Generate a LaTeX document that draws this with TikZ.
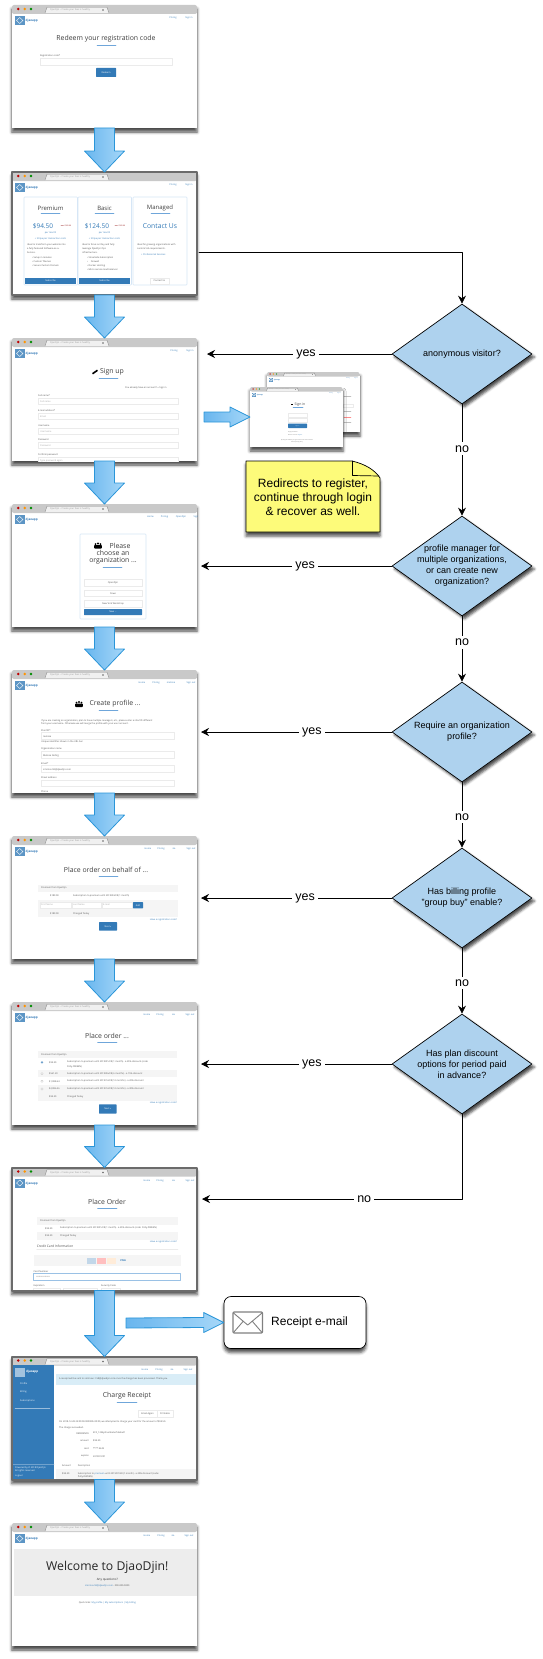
\documentclass[tikz,border=0pt]{standalone}
\usepackage{fontspec}
\setmainfont{Liberation Sans}
\setsansfont{Open Sans}
\usetikzlibrary{arrows.meta,calc,shapes.geometric,shadows.blur}

% Colours
\definecolor{flowedge}{HTML}{2A95D8}
\definecolor{flowleft}{HTML}{69B6EE}
\definecolor{flowright}{HTML}{A6D7F8}
\definecolor{askblue}{HTML}{AED2EE}
\definecolor{notefill}{HTML}{FDFB7A}
\definecolor{barcol}{HTML}{C9C9C9}
\definecolor{webblue}{HTML}{337AB7}
\definecolor{rulecol}{HTML}{6FA6DA}
\definecolor{fieldcol}{HTML}{EBEBEB}
\definecolor{cardcol}{HTML}{D6E6F6}
\definecolor{bandcol}{HTML}{F5F5F5}
\definecolor{alertcol}{HTML}{D9EDF7}
\definecolor{txtcol}{HTML}{505050}

\tikzset{
	softshadow/.style={blur shadow={shadow xshift=0pt, shadow yshift=-4pt, shadow blur radius=3pt, shadow opacity=70}},
	shot/.style={rectangle, fill=white, minimum width=185pt, minimum height=123pt, inner sep=0pt, outer sep=0pt, softshadow},
	minishot/.style={shot, minimum width=93pt, minimum height=60pt},
	shotframe/.style={draw=black!58, line width=2pt},
	ask/.style={diamond, draw=black, fill=askblue, line width=0.7pt, minimum width=140pt, minimum height=100pt, inner sep=0pt, aspect=1.4,
		blur shadow={shadow xshift=2.5pt, shadow yshift=-3pt, shadow blur radius=2.5pt, shadow opacity=70}},
	asktxt/.style={align=center, font=\fontsize{9}{11}\selectfont, inner sep=0pt},
	flow/.style={draw=black, line width=0.7pt, -{Stealth[length=8pt, width=8pt]}},
	answer/.style={fill=white, font=\fontsize{12.5}{14}\selectfont, inner sep=3pt},
	bigflow/.style={draw=flowedge, line width=0.8pt, left color=flowleft, right color=flowright},
	tx/.style={font=\sffamily\fontsize{2.3}{3}\selectfont, text=txtcol, anchor=west, inner sep=0pt},
	ctr/.style={anchor=center},
	linkcol/.style={text=webblue},
	ttl/.style={font=\sffamily\fontsize{6.9}{8}\selectfont, anchor=center, text=black!75},
	under/.style={draw=rulecol, line width=0.5pt},
	field/.style={draw=fieldcol, line width=0.4pt, fill=white},
	card/.style={draw=cardcol, line width=0.6pt, fill=white, rounded corners=0.8pt},
}

\newcounter{txtno}
\newcommand{\tx}[3][]{\stepcounter{txtno}\node[tx,#1] (txt\thetxtno) at (#2) {#3};}
% Blue arrow running down from one screen to the next
\newcommand{\bigdown}[2]{\draw[bigflow] ($(#1.south)+(-10,0)$) -- ($(#2.north)+(-10,-21)$) -- ($(#2.north)+(-20,-21)$) -- (#2.north)
	-- ($(#2.north)+(20,-21)$) -- ($(#2.north)+(10,-21)$) -- ($(#1.south)+(10,0)$) -- cycle;}
% Blue arrow running right
\newcommand{\bigright}[2]{\draw[bigflow] ($(#1)+(0,-5)$) -- ($(#2)+(-20,-5)$) -- ($(#2)+(-20,-10)$) -- (#2)
	-- ($(#2)+(-20,10)$) -- ($(#2)+(-20,5)$) -- ($(#1)+(0,5)$) -- cycle;}
% Form parts
\newcommand{\btn}[3]{\fill[webblue, rounded corners=0.5pt] (#1) rectangle (#2); \tx[ctr, text=white]{$(#1)!.5!(#2)$}{#3}}
\newcommand{\entry}[4]{\tx{#1,#2}{#3} \draw[field] (#1,#2+2) rectangle (#1+#4,#2+8.6);}
\newcommand{\usersign}[1]{\begin{scope}[shift={(#1)}]
	\fill (0,0) circle (1.1pt) (-2.5,0.6) circle (0.9pt) (2.5,0.6) circle (0.9pt);
	\fill[rounded corners=0.6pt] (-3.8,5) rectangle (3.8,1.6);
	\end{scope}}

% One browser window: scale, node name, then its menu as position/label pairs
\newenvironment{webshot}[3][1]{\begin{scope}[shift={(#2.north west)}, scale=#1, transform shape]
	\clip (#2.north west) rectangle (#2.south east);
	\fill[barcol, rounded corners=2pt] (0,9) -- (0,0) -- (185,0) -- (185,9) -- cycle;
	\fill[barcol] (0,4) rectangle (185,8);
	\fill[red!75!black] (6.3,4) circle (1.4pt);
	\fill[orange!85!yellow] (12.7,4) circle (1.4pt);
	\fill[green!55!black] (19,4) circle (1.4pt);
	\draw[black!50, fill=black!6, line width=0.3pt] (33,8) -- (35,2.2) -- (95,2.2) -- (97,8);
	\tx[text=black!40]{38,5}{DjaoDjin -- Create your fees is healthy}
	\fill[black!60] (91,5) circle (0.8pt);
	\fill[webblue!80] (3,11) rectangle (12.5,20);
	\draw[white, line width=0.4pt] (7.7,12.5) -- (11,15.5) -- (7.7,18.5) -- (4.5,15.5) -- cycle;
	\tx[font=\sffamily\bfseries\fontsize{3}{3}\selectfont, linkcol]{13.5,16}{djaoapp}
	\foreach \px/\lab in {#3} {\tx[ctr, linkcol]{\px,13}{\lab}}
	}{\end{scope}}

\begin{document}
\begin{tikzpicture}[x=1pt, y=-1pt, line cap=round, line join=round]
	\useasboundingbox (0,0) rectangle (542,1659);

	% Screens
	\node[shot] (redeem) at (104.5,66.5) {};
	\node[shot] (plans) at (104.5,233.5) {};
	\node[shot] (signup) at (104.5,399.5) {};
	\node[shot] (orgchoice) at (104.5,565.5) {};
	\node[shot] (profile) at (104.5,731.5) {};
	\node[shot] (groupbuy) at (104.5,897.5) {};
	\node[shot] (periods) at (104.5,1063.5) {};
	\node[shot] (checkout) at (104.5,1229) {};
	\node[shot] (receipt) at (104.5,1418) {};
	\node[shot] (welcome) at (104.5,1584.5) {};

	% Redeem code
	\begin{webshot}{redeem}{161/Pricing,177/Sign in}
		\tx[ttl]{94,34}{Redeem your registration code}
		\draw[under] (85,40) -- (104,40);
		\tx{28,51}{Registration code*}
		\draw[field] (28,53.5) rectangle (160,60.5);
		\btn{84,63}{104,72}{Redeem}
	\end{webshot}

	% Pricing plans
	\begin{webshot}{plans}{161/Pricing,177/Sign in}
		\foreach \cx/\title/\cost in {12/Premium/\$94.50,66/Basic/\$124.50} {
			\draw[card] (\cx,25) rectangle (\cx+53.5,113);
			\tx[ttl, font=\sffamily\fontsize{6}{7}\selectfont]{\cx+26.5,36}{\title}
			\draw[under] (\cx+17,41) -- (\cx+36,41);
			\tx[ctr, linkcol, font=\sffamily\fontsize{6.5}{7}\selectfont]{\cx+19,54}{\cost}
			\tx[ctr, text=red!55!black, font=\sffamily\fontsize{1.8}{2}\selectfont]{\cx+42,54}{was \$105.00}
			\tx[ctr, linkcol]{\cx+26.5,61}{per month}
			\tx[ctr, linkcol]{\cx+26.5,67}{+ Stripe per transaction costs}
			\fill[webblue] (\cx+1,106) rectangle (\cx+52,112);
			\tx[ctr, text=white]{\cx+26.5,109}{Subscribe}
		}
		\draw[card] (121,25) rectangle (175,113);
		\tx[ttl, font=\sffamily\fontsize{6}{7}\selectfont]{148,36}{Managed}
		\draw[under] (139,41) -- (158,41);
		\tx[ctr, linkcol, font=\sffamily\fontsize{6.8}{7}\selectfont]{148,54}{Contact Us}
		\tx{15,73}{Ideal to transform your website into}
		\tx{15,76.7}{a fully featured Software-as-a-}
		\tx{15,80.2}{Service.}
		\foreach \ly/\lab in {86.3/Setup in minutes,90/Custom Themes,94/Secure Custom Domain} {\tx{20,\ly}{\textbullet\ \lab}}
		\tx{70,73}{Ideal to focus on Day and fully}
		\tx{70,76.7}{leverage DjaoDjin Ops}
		\tx{70,80.2}{infrastructure.}
		\foreach \ly/\lab in {86.3/Streetside Subscription,90/\quad Firewall,94/Docker Hosting,98/Micro service load balancer} {\tx{75,\ly}{\textbullet\ \lab}}
		\tx{125,73}{Ideal for growing organizations with}
		\tx{125,76.7}{custom SLA requirements.}
		\tx[linkcol]{129,82.5}{+ Professional Services}
		\draw[field] (138,106) rectangle (157,112);
		\tx[ctr]{147.5,109}{Contact Us}
	\end{webshot}
	\draw[shotframe] (plans.north west) rectangle (plans.south east);

	% Sign up
	\begin{webshot}{signup}{162/Pricing,178/Sign in}
		\tx[ttl]{100,34}{Sign up}
		\fill[rotate around={35:(83,34)}] (80,33.2) rectangle (86,34.8);
		\draw[under] (87,40) -- (106,40);
		\tx{113,50}{You already have an account? » Sign in}
		\entry{26}{58}{Full name*}{140}
		\entry{26}{72.7}{E-mail address*}{140}
		\entry{26}{87.7}{Username}{140}
		\entry{26}{102}{Password}{140}
		\entry{26}{117.3}{Confirm password}{140}
		\foreach \ly/\lab in {63.5/Full name,78.2/Email,93.2/Username,107.5/Password,122.8/Type password again} {\tx[text=black!35]{28,\ly}{\lab}}
	\end{webshot}

	% Choose an organization
	\begin{webshot}{orgchoice}{138.5/Home,152.5/Pricing,169/OpenDjin,184/Sign}
		\draw[card] (68,30) rectangle (134,115);
		\usersign{86,39.5}
		\tx[ttl]{108,42}{Please}
		\tx[ttl]{101,49.3}{choose an}
		\tx[ttl]{101,57}{organization ...}
		\draw[under] (91,63) -- (110,63);
		\foreach \ly/\lab in {75.3/OpenDjin,86/Cowo,96.3/New York Workshop} {
			\draw[field] (72,\ly) rectangle (130,\ly+6.4);
			\tx[ctr]{101,\ly+3.2}{\lab}
		}
		\btn{72,105}{130,111}{New ...}
	\end{webshot}

	% Create profile
	\begin{webshot}{profile}{130/Home,144/Pricing,159/melissa,179/Sign out}
		\usersign{67,32}
		\tx[ttl]{103,34}{Create profile ...}
		\draw[under] (87,40) -- (106,40);
		\tx{29,50.7}{If you are creating an organization, plan to have multiple managers, etc., please enter a shortID different}
		\tx{29,54.3}{from your username. Otherwise we will merge the profile with your user account.}
		\entry{29}{60.3}{ShortID*}{133}
		\tx{31,66.6}{melissa}
		\tx{29,72.3}{Unique identifier shown in the URL bar}
		\entry{29}{79.3}{Organization name}{133}
		\tx{31,85.6}{Melissa NoOrg}
		\entry{29}{93.3}{Email*}{133}
		\tx{31,99.6}{smirnov.58@djaodjin.com}
		\entry{29}{107.7}{Street address}{133}
		\tx{29,122}{Phone}
	\end{webshot}

	% Place order for someone else
	\begin{webshot}{groupbuy}{136/Home,149/Pricing,162/sia,179/Sign out}
		\tx[ttl]{94,34}{Place order on behalf of ...}
		\draw[under] (87,40) -- (106,40);
		\fill[bandcol] (26,49) rectangle (166,55.7);
		\fill[bandcol] (26,64) rectangle (166,81.3);
		\tx{29,52.3}{Premium from DjaoDjin}
		\tx{38,60}{\$189.00}
		\tx{61,60}{Subscription to premium until 2019/03/28 (1 month)}
		\foreach \fa/\fb/\lab in {28/59/First Name,60/89/Last Name,90/120/E-mail} {
			\draw[field] (\fa,66) rectangle (\fb,72.3);
			\tx[text=black!35]{\fa+1,69}{\lab}
		}
		\btn{121,66}{131,72.3}{Add}
		\tx{38,78}{\$189.00}
		\tx{61,78}{Charged Today}
		\tx[anchor=east, linkcol]{165,84}{Have a registration code?}
		\btn{87,86}{105,94.7}{Next »}
	\end{webshot}

	% Place order with period discounts
	\begin{webshot}{periods}{135/Home,148/Pricing,161.5/sia,178/Sign out}
		\tx[ttl]{95,34}{Place order ...}
		\draw[under] (85.5,40) -- (105,40);
		\fill[bandcol] (25.6,49) rectangle (165,56.3);
		\fill[bandcol] (25.6,68) rectangle (165,75.3);
		\fill[bandcol] (25.6,83.3) rectangle (165,98.7);
		\tx{29,52.6}{Premium from DjaoDjin}
		\fill[webblue!70] (30,60.3) circle (1.3pt);
		\foreach \ly in {71.7,79.3,87} {\draw[black!25, line width=0.2pt] (30,\ly) circle (1.2pt);}
		\foreach \ly/\amt/\lab in {60.3/{\$94.50}/{Subscription to premium until 2019/01/28 (1 month) - a 20\% discount (code:},
			71.7/{\$561.20}/{Subscription to premium until 2019/06/28 (6 months) - a 15\% discount},
			79.3/{\$1,088.64}/{Subscription to premium until 2019/12/28 (12 months) - a 20\% discount},
			87/{\$2,086.56}/{Subscription to premium until 2019/12/28 (12 months) - a 30\% discount},
			95/{\$94.50}/{Charged Today}} {
			\tx{37,\ly}{\amt}
			\tx{55,\ly}{\lab}
		}
		\tx{55,64.5}{Polly-DWEEN)}
		\tx[anchor=east, linkcol]{165,100.7}{Have a registration code?}
		\btn{87,102.3}{104.5,111.7}{Next »}
	\end{webshot}

	% Credit card form
	\begin{webshot}{checkout}{135/Home,148/Pricing,161.5/sia,178/Sign out}
		\tx[ttl]{95,34.7}{Place Order}
		\draw[under] (85.5,41) -- (105,41);
		\fill[bandcol] (25,49.3) rectangle (166,57);
		\fill[bandcol] (25,64.5) rectangle (166,72);
		\tx{28,53}{Premium from DjaoDjin}
		\tx{33,60.7}{\$94.50}
		\tx{48,60.7}{Subscription to premium until 2019/01/28 (1 month) - a 20\% discount (code: Polly-DWEEN)}
		\tx{33,68.3}{\$94.50}
		\tx{48,68.3}{Charged Today}
		\tx[anchor=east, linkcol]{165,74.3}{Have a registration code?}
		\tx[font=\sffamily\fontsize{3.3}{4}\selectfont]{24.6,79}{Credit Card Information}
		\draw[fieldcol, line width=0.3pt] (24.6,81.7) -- (166,81.7);
		\fill[bandcol] (21.5,87.3) rectangle (168.5,98);
		\fill[webblue!30] (75,90) rectangle (84,96);
		\fill[red!25] (85,90) rectangle (94,96);
		\fill[orange!15] (95,90) rectangle (104,96);
		\tx[ctr, linkcol, font=\sffamily\bfseries\fontsize{2.6}{3}\selectfont]{111,93}{VISA}
		\tx{21.5,104}{Card Number}
		\draw[rulecol!70, fill=white, line width=0.4pt] (21.5,106) rectangle (168.5,112.7);
		\tx{24,109.3}{\textbullet\textbullet\textbullet\textbullet\textbullet\textbullet\textbullet\textbullet\textbullet\textbullet\textbullet\textbullet\textbullet\textbullet\textbullet\textbullet}
		\tx{21.5,118.7}{Expiration}
		\tx{89,118.7}{Security Code}
		\draw[field] (21.5,120.5) rectangle (48,127);
		\draw[field] (51,120.5) rectangle (85,127);
		\draw[field] (89,120.5) rectangle (108,127);
	\end{webshot}
	\draw[shotframe] (checkout.north west) rectangle (checkout.south east);

	% Charge receipt, with its side menu
	\begin{webshot}{receipt}{133/Home,147/Pricing,160/sia,176/Sign out}
		\fill[webblue] (0,8) rectangle (42,123);
		\fill[white, opacity=.55] (3,11) rectangle (12.5,20);
		\tx[font=\sffamily\bfseries\fontsize{3}{3}\selectfont, text=white]{14,15.5}{djaoapp}
		\foreach \ly/\lab in {27/Profile,35.7/Billing,44/Subscriptions} {\tx[text=white]{8,\ly}{\lab}}
		\draw[white!50!webblue, line width=0.3pt] (3,52) -- (38,52);
		\draw[white!30!webblue, line width=0.3pt] (0,108) -- (42,108);
		\tx[text=white]{3,111}{Powered by © 2018 DjaoDjin}
		\tx[text=white]{3,114.3}{All rights reserved}
		\tx[text=white]{3,119.3}{Logout}
		\fill[alertcol] (43.7,17.3) rectangle (185,28);
		\tx{47,22.7}{A receipt will be sent to smirnov+1.58@djaodjin.com once the charge has been processed. Thank you.}
		\tx[ttl]{115,39.3}{Charge Receipt}
		\draw[under] (105,45.3) -- (125,45.3);
		\draw[field] (126,54) rectangle (145,60.7);
		\draw[field] (145,54) rectangle (161,60.7);
		\tx[ctr]{135.5,57.3}{Email Again}
		\tx[ctr]{153,57.3}{Printable}
		\tx{47,65.3}{On 2018-12-28 23:00:00.000000+00:00, we attempted to charge your card for the amount of \$94.50.}
		\tx{47,71}{The charge succeeded.}
		\foreach \ly/\key/\val in {76.7/REFERENCE/{\#ch\_1234yzhumbe5e7da5ad1},84.3/amount/{\$94.50},92/card/{**** 4242},99.7/expires/{2019/01/01}} {
			\tx[anchor=east]{77,\ly}{\key}
			\tx{81,\ly}{\val}
		}
		\tx{50,109.3}{Amount}
		\tx{65.7,109.3}{Description}
		\fill[bandcol] (43.7,112.7) rectangle (185,123);
		\tx{50,117.3}{\$94.50}
		\tx{65.7,117.3}{Subscription to \textcolor{webblue}{premium} until 2019/01/28 (1 month) - a 20\% discount (code:}
		\tx{65.7,120.7}{Polly-DWEEN)}
	\end{webshot}
	\draw[shotframe] (receipt.north west) rectangle (receipt.south east);

	% Welcome page
	\begin{webshot}{welcome}{135/Home,149/Pricing,161/sia,177/Sign out}
		\fill[black!7] (2,26) rectangle (185,73);
		\tx[ttl, font=\sffamily\fontsize{12.2}{14}\selectfont, text=black!85]{95.3,44.7}{Welcome to DjaoDjin!}
		\tx[ctr, text=black!85, font=\sffamily\fontsize{3}{4}\selectfont]{95.3,56.3}{Any questions?}
		\tx[ctr]{95.3,63.3}{\textcolor{webblue}{smirnov.58@djaodjin.com} - 000-000-0000}
		\tx[ctr]{95.3,79.7}{Quick links: \textcolor{webblue}{My profile | My subscriptions | My billing}}
	\end{webshot}

	% Sign in and recover windows, at half size
	\node[minishot] (recover) at (313.5,402) {};
	\begin{webshot}[.5]{recover}{162/Pricing,178/Sign in}
		\draw[field] (152,64) rectangle (172,70);
		\foreach \ly in {49,78,100} {\draw[black!25, line width=0.2pt] (154,\ly) -- (168,\ly);}
		\draw[red!45, line width=0.2pt] (154,91) -- (168,91);
	\end{webshot}
	\node[minishot] (signin) at (296.5,417) {};
	\begin{webshot}[.5]{signin}{162/Pricing,178/Sign in}
		\tx[ttl]{100,34.6}{Sign in}
		\fill (82,33) rectangle (86,36.5);
		\draw[under] (86,40.6) -- (106,40.6);
		\draw[field] (76,51.4) rectangle (114,59.4);
		\draw[field] (76,62.6) rectangle (114,70.6);
		\btn{76,73.4}{114,82}{Sign in}
		\tx{76,90.6}{Forgot password?}
		\tx{76,96}{Need an account? \textcolor{webblue}{Register}}
		\tx[ctr]{94,106}{By using this website you agree to the terms and conditions}
		\tx[ctr]{94,110.6}{and the privacy policy.}
	\end{webshot}

	% Blue arrows between screens
	\bigdown{redeem}{plans}
	\bigdown{plans}{signup}
	\bigdown{signup}{orgchoice}
	\bigdown{orgchoice}{profile}
	\bigdown{profile}{groupbuy}
	\bigdown{groupbuy}{periods}
	\bigdown{periods}{checkout}
	\bigdown{checkout}{receipt}
	\bigdown{receipt}{welcome}
	\coordinate (signupout) at (204,417);
	\bigright{signupout}{signin.west}

	% Note
	\draw[fill=notefill, line width=0.7pt, softshadow] (246,461) -- (352,461) .. controls (365,464) and (375,470) .. (380,478) -- (380,532) -- (246,532) -- cycle;
	\draw[line width=0.7pt] (352.5,461) -- (352.5,475.5) -- (379,476);
	\node[align=center, font=\fontsize{12}{14}\selectfont, inner sep=0pt] (redirectnote) at (313,497) {Redirects to register,\\continue through login\\\& recover as well.};

	% Receipt e-mail
	\node[rectangle, draw=black, fill=white, line width=0.7pt, rounded corners=7pt, minimum width=142pt, minimum height=52pt, inner sep=0pt, softshadow] (email) at (295,1322.5) {};
	\node[font=\fontsize{12}{14}\selectfont, anchor=west, inner sep=0pt] (emailtxt) at (271,1322.5) {Receipt e-mail};
	\draw[black!50, line width=1.1pt, rounded corners=1pt] (233,1312) rectangle (262.5,1333);
	\draw[black!50, line width=0.9pt] (233.5,1313) -- (247.7,1325) -- (262,1313) (233.5,1332.5) -- (243,1321.5) (262,1332.5) -- (252.5,1321.5);
	\coordinate (mailout) at (126,1323);
	\bigright{mailout}{email.west}

	% Questions
	\node[ask, label={[asktxt]center:anonymous visitor?}] (anon) at (462,354) {};
	\node[ask, label={[asktxt]center:{profile manager for\\multiple organizations,\\or can create new\\organization?}}] (manager) at (462,566) {};
	\node[ask, label={[asktxt]center:{Require an organization\\profile?}}] (needprofile) at (462,732) {};
	\node[ask, label={[asktxt]center:{Has billing profile\\"group buy" enable?}}] (buyenable) at (462,898) {};
	\node[ask, label={[asktxt]center:{Has plan discount\\options for period paid\\in advance?}}] (discount) at (462,1064) {};

	% Flow between the questions and the screens
	\coordinate (plansout) at (199,252);
	\coordinate (checkoutin) at (202,1199);
	\draw[flow] (plansout) -| (anon.north);
	\draw[flow, shorten >=10pt] (anon.west) -- node[answer, pos=.44] (yesa) {yes} (anon.west -| signup.east);
	\draw[flow, shorten >=4pt] (manager.west) -- node[answer, pos=.445] (yesb) {yes} (manager.west -| orgchoice.east);
	\draw[flow, shorten >=4pt] (needprofile.west) -- node[answer, pos=.41] (yesc) {yes} (needprofile.west -| profile.east);
	\draw[flow, shorten >=4pt] (buyenable.west) -- node[answer, pos=.445] (yesd) {yes} (buyenable.west -| groupbuy.east);
	\draw[flow, shorten >=4pt] (discount.west) -- node[answer, pos=.41] (yese) {yes} (discount.west -| periods.east);
	\draw[flow] (anon.south) -- node[answer, pos=.4] (noa) {no} (manager.north);
	\draw[flow] (manager.south) -- node[answer, pos=.4] (nob) {no} (needprofile.north);
	\draw[flow] (needprofile.south) -- node[answer, pos=.53] (noc) {no} (buyenable.north);
	\draw[flow] (buyenable.south) -- node[answer, pos=.53] (nod) {no} (discount.north);
	\draw[flow] (discount.south) |- node[answer, pos=.688] (noe) {no} (checkoutin);

\end{tikzpicture}
\end{document}
